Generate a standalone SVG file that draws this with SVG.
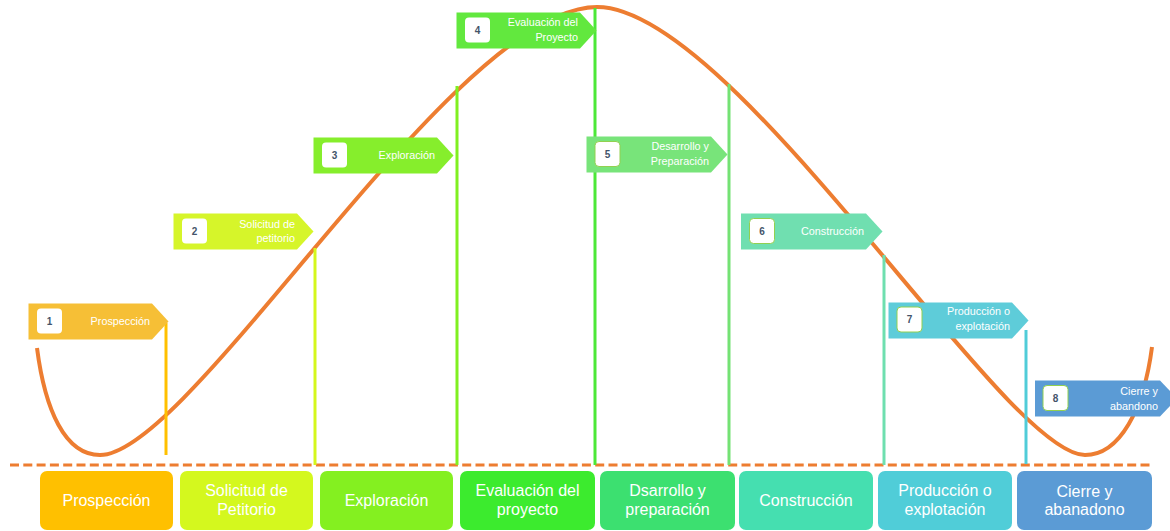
<svg xmlns="http://www.w3.org/2000/svg" width="1170" height="531" viewBox="0 0 1170 531">
<style>
.flagtxt{font-family:"Liberation Sans",Arial,sans-serif;font-size:10.8px;fill:#ffffff;text-anchor:end}
.num{font-family:"Liberation Sans",Arial,sans-serif;font-size:10px;font-weight:bold;fill:#44546A;text-anchor:middle}
.nb{fill:#ffffff}
.nbg{fill:#ffffff;stroke:#92D050;stroke-width:1}
.boxtxt{font-family:"Liberation Sans",Arial,sans-serif;font-size:16px;fill:#ffffff;text-anchor:middle}
.vl{stroke-width:3;fill:none}
</style>
<rect width="1170" height="531" fill="#ffffff"/>
<g id="chart">
<line x1="10" y1="465" x2="1152" y2="465" stroke="#ED7D31" stroke-width="3" stroke-dasharray="9 4.3"/>
<path d="M37,348 C45,410 65,455 100,455 C191.5,455 453.5,7 597,7 C733.5,7 1004.5,455 1085,455 C1120,455 1144,409 1152,347" fill="none" stroke="#ED7D31" stroke-width="4"/>
</g>
<g id="connectors">
<line class="vl" x1="166" y1="323" x2="166" y2="455" stroke="#FFC000"/>
<line class="vl" x1="315" y1="248" x2="315" y2="465" stroke="#D4F71C"/>
<line class="vl" x1="457" y1="86" x2="457" y2="465" stroke="#80F020"/>
<line class="vl" x1="595" y1="8" x2="595" y2="465" stroke="#4CE838"/>
<line class="vl" x1="729" y1="84" x2="729" y2="465" stroke="#74E274"/>
<line class="vl" x1="884" y1="255" x2="884" y2="465" stroke="#6EDFAF"/>
<line class="vl" x1="1026" y1="330" x2="1026" y2="464" stroke="#50CCD8"/>
</g>
<g id="flag1">
<polygon points="28.5,303.5 152,303.5 168.5,321.5 152,339.5 28.5,339.5" fill="#F6BF36"/>
<rect class="nb" x="37" y="308.5" width="25" height="25" rx="4"/>
<text class="num" x="49.5" y="324.5">1</text>
<text class="flagtxt" x="150" y="324.5">Prospección</text>
</g>
<g id="flag2">
<polygon points="173.5,213.5 297,213.5 313.5,231.5 297,249.5 173.5,249.5" fill="#D6F52A"/>
<rect class="nb" x="182" y="218.5" width="25" height="25" rx="4"/>
<text class="num" x="194.5" y="234.5">2</text>
<text class="flagtxt" x="295" y="227.5">Solicitud de</text>
<text class="flagtxt" x="295" y="242">petitorio</text>
</g>
<g id="flag3">
<polygon points="313.5,137.5 437,137.5 453.5,155.5 437,173.5 313.5,173.5" fill="#86EE2C"/>
<rect class="nb" x="322" y="142.5" width="25" height="25" rx="4"/>
<text class="num" x="334.5" y="158.5">3</text>
<text class="flagtxt" x="435" y="158.5">Exploración</text>
</g>
<g id="flag4">
<polygon points="456.5,12.5 580,12.5 596.5,30.5 580,48.5 456.5,48.5" fill="#62E83E"/>
<rect class="nb" x="465" y="17.5" width="25" height="25" rx="4"/>
<text class="num" x="477.5" y="33.5">4</text>
<text class="flagtxt" x="578" y="26">Evaluación del</text>
<text class="flagtxt" x="578" y="41">Proyecto</text>
</g>
<g id="flag5">
<polygon points="586.5,136.5 711,136.5 727.5,154.5 711,172.5 586.5,172.5" fill="#78E47A"/>
<rect class="nbg" x="595" y="141.5" width="25" height="25" rx="4"/>
<text class="num" x="607.5" y="157.5">5</text>
<text class="flagtxt" x="709" y="150">Desarrollo y</text>
<text class="flagtxt" x="709" y="165">Preparación</text>
</g>
<g id="flag6">
<polygon points="741,213.5 866,213.5 882.5,231.5 866,249.5 741,249.5" fill="#70DFB0"/>
<rect class="nbg" x="749.5" y="218.5" width="25" height="25" rx="4"/>
<text class="num" x="762" y="234.5">6</text>
<text class="flagtxt" x="864" y="235">Construcción</text>
</g>
<g id="flag7">
<polygon points="888.5,302.5 1012,302.5 1028.5,320.5 1012,338.5 888.5,338.5" fill="#5ECCD9"/>
<rect class="nbg" x="897" y="307" width="25" height="25" rx="4"/>
<text class="num" x="909.5" y="323">7</text>
<text class="flagtxt" x="1010" y="315">Producción o</text>
<text class="flagtxt" x="1010" y="330">explotación</text>
</g>
<g id="flag8">
<polygon points="1035,380.5 1160,380.5 1177,398.5 1160,416.5 1035,416.5" fill="#5B9BD5"/>
<rect class="nbg" x="1043" y="385.5" width="25" height="25" rx="4"/>
<text class="num" x="1055.5" y="401.5">8</text>
<text class="flagtxt" x="1158" y="395">Cierre y</text>
<text class="flagtxt" x="1158" y="409.5">abandono</text>
</g>
<g id="box1">
<rect x="40" y="471" width="133" height="59" rx="7" fill="#FFC000"/>
<text class="boxtxt" x="106.5" y="506">Prospección</text>
</g>
<g id="box2">
<rect x="180" y="471" width="133" height="59" rx="7" fill="#D4F81E"/>
<text class="boxtxt" x="246.5" y="495.5">Solicitud de</text>
<text class="boxtxt" x="246.5" y="514.5">Petitorio</text>
</g>
<g id="box3">
<rect x="320" y="471" width="133" height="59" rx="7" fill="#84F020"/>
<text class="boxtxt" x="386.5" y="506">Exploración</text>
</g>
<g id="box4">
<rect x="460" y="471" width="135" height="59" rx="7" fill="#3CEB2E"/>
<text class="boxtxt" x="527.5" y="495.5">Evaluación del</text>
<text class="boxtxt" x="527.5" y="514.5">proyecto</text>
</g>
<g id="box5">
<rect x="600" y="471" width="135" height="59" rx="7" fill="#3CE070"/>
<text class="boxtxt" x="667.5" y="495.5">Dsarrollo y</text>
<text class="boxtxt" x="667.5" y="514.5">preparación</text>
</g>
<g id="box6">
<rect x="739" y="471" width="134" height="59" rx="7" fill="#45DFB0"/>
<text class="boxtxt" x="806" y="506">Construcción</text>
</g>
<g id="box7">
<rect x="878" y="471" width="134" height="59" rx="7" fill="#50CDD8"/>
<text class="boxtxt" x="945" y="495.5">Producción o</text>
<text class="boxtxt" x="945" y="514.5">explotación</text>
</g>
<g id="box8">
<rect x="1017" y="471" width="135" height="59" rx="7" fill="#5B9BD5"/>
<text class="boxtxt" x="1084.5" y="496.5">Cierre y</text>
<text class="boxtxt" x="1084.5" y="515">abanadono</text>
</g>
</svg>
